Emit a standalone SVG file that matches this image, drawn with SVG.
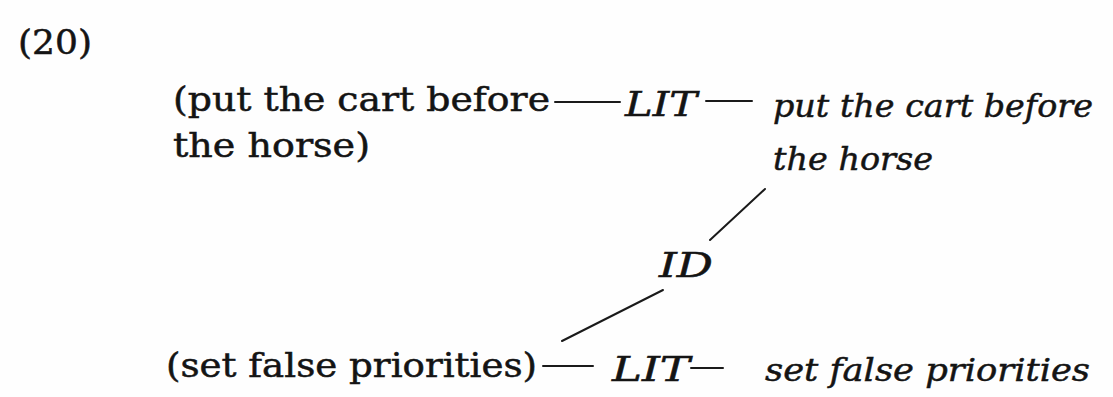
<svg xmlns="http://www.w3.org/2000/svg" width="1113" height="397" viewBox="0 0 1113 397">
<style>
.r{font-family:"DejaVu Serif","Liberation Serif",serif;font-size:33px;fill:#141414;stroke:#141414;stroke-width:0.5}
.i{font-family:"DejaVu Serif","Liberation Serif",serif;font-style:italic;font-size:32px;fill:#141414;stroke:#141414;stroke-width:0.5}
.lab{font-family:"DejaVu Serif","Liberation Serif",serif;font-style:italic;font-size:34px;fill:#141414;stroke:#141414;stroke-width:0.5}
.ln{stroke:#1a1a1a;stroke-width:2;fill:none;stroke-linecap:round}
</style>
<rect width="1113" height="397" fill="#fefefe"/>
<text class="r" x="18" y="54" font-size="29" textLength="74" lengthAdjust="spacingAndGlyphs">(20)</text>
<g id="n-lit-src">
<text class="r" x="173" y="111" textLength="377" lengthAdjust="spacingAndGlyphs">(put the cart before</text>
<text class="r" x="173" y="157" textLength="197" lengthAdjust="spacingAndGlyphs">the horse)</text>
</g>
<g id="n-lit1"><text class="lab" x="625" y="116" textLength="72" lengthAdjust="spacingAndGlyphs">LIT</text></g>
<g id="n-lit-tgt">
<text class="i" x="773" y="117" textLength="320" lengthAdjust="spacingAndGlyphs">put the cart before</text>
<text class="i" x="773" y="170" textLength="160" lengthAdjust="spacingAndGlyphs">the horse</text>
</g>
<g id="n-id"><text class="lab" x="659" y="277" font-size="37" textLength="54" lengthAdjust="spacingAndGlyphs">ID</text></g>
<g id="n-id-src"><text class="r" x="166" y="377" textLength="371" lengthAdjust="spacingAndGlyphs">(set false priorities)</text></g>
<g id="n-lit2"><text class="lab" x="612" y="381" textLength="78" lengthAdjust="spacingAndGlyphs">LIT</text></g>
<g id="n-id-tgt"><text class="i" x="765" y="381" textLength="325" lengthAdjust="spacingAndGlyphs">set false priorities</text></g>
<g id="connectors">
<path class="ln" d="M555 102 H620"/>
<path class="ln" d="M706 101 H752"/>
<path class="ln" d="M765 189 L710 240" stroke-width="2.5"/>
<path class="ln" d="M562 341 L663 290" stroke-width="4"/>
<path class="ln" d="M543 366 H593"/>
<path class="ln" d="M691 368 H723"/>
</g>
</svg>
